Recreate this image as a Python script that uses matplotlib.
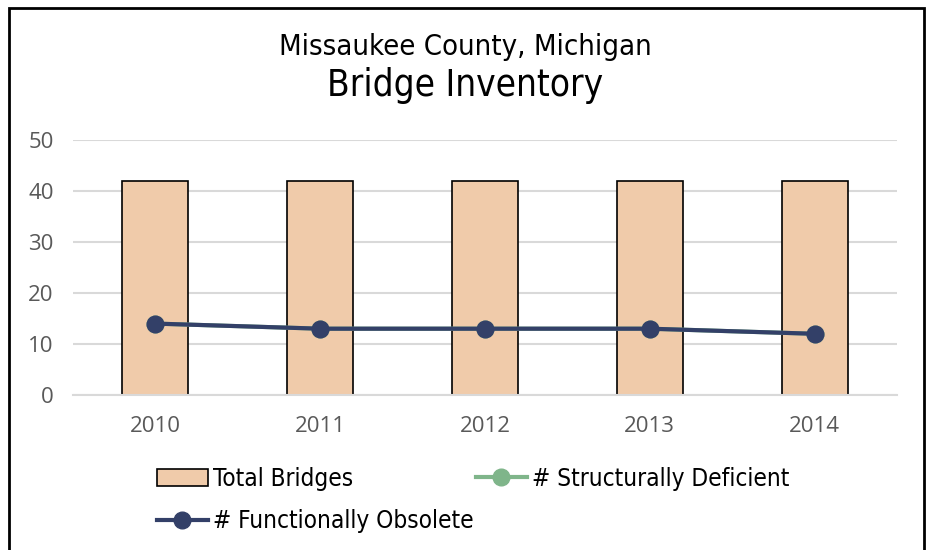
import matplotlib.pyplot as plt
from matplotlib.patches import Rectangle

years = ["2010", "2011", "2012", "2013", "2014"]
total_bridges = [42, 42, 42, 42, 42]
structurally_deficient = [14, 13, 13, 13, 12]
functionally_obsolete = [14, 13, 13, 13, 12]

bar_color = "#F0CBAA"
sd_color = "#7FB58A"
fo_color = "#334068"
grid_color = "#D9D9D9"
tick_color = "#595959"

fig = plt.figure(figsize=(9.3, 5.5), dpi=100)
ax = fig.add_axes([73 / 930, 1 - 395 / 550, 824 / 930, 255 / 550])

x = range(len(years))
bars = ax.bar(x, total_bridges, width=0.4, color=bar_color,
              edgecolor="black", linewidth=1.2, zorder=2, label="Total Bridges")
sd_line, = ax.plot(x, structurally_deficient, color=sd_color, lw=3, marker="o",
                   ms=12, zorder=3, label="# Structurally Deficient")
fo_line, = ax.plot(x, functionally_obsolete, color=fo_color, lw=3, marker="o",
                   ms=12, zorder=4, label="# Functionally Obsolete")

ax.set_xlim(-0.5, len(years) - 0.5)
ax.set_ylim(0, 50)
ax.set_yticks(range(0, 51, 10))
ax.set_xticks(list(x))
ax.set_xticklabels(years)
ax.yaxis.grid(True, color=grid_color, lw=1.5, zorder=0)
ax.set_axisbelow(True)
for side in ["top", "right", "left"]:
    ax.spines[side].set_visible(False)
ax.spines["bottom"].set_color(grid_color)
ax.spines["bottom"].set_linewidth(1.5)
ax.tick_params(axis="both", length=0, colors=tick_color, labelsize=16)
ax.tick_params(axis="y", pad=14)
ax.tick_params(axis="x", pad=15)
for lab in ax.get_xticklabels() + ax.get_yticklabels():
    lab.set_family(["Open Sans", "DejaVu Sans"])

fig.text(0.5, 1 - 47 / 550, "Missaukee County, Michigan", ha="center", va="center",
         fontsize=21, family="DejaVu Sans", fontstretch="condensed")
fig.text(0.5, 1 - 86 / 550, "Bridge Inventory", ha="center", va="center",
         fontsize=26.5, family="DejaVu Sans", fontstretch="condensed")

leg = fig.legend([bars, fo_line, sd_line],
                 ["Total Bridges", "# Functionally Obsolete", "# Structurally Deficient"],
                 ncol=2, loc="upper left", bbox_to_anchor=(135 / 930, 1 - 445 / 550),
                 frameon=False,
                 prop={"family": "DejaVu Sans", "stretch": "condensed", "size": 17.5},
                 handlelength=2.1, handletextpad=0.2, columnspacing=0.1,
                 labelspacing=0.75)

# outer chart frame
fig.patches.append(Rectangle((9 / 930, -0.05), (924 - 9) / 930, 1.05 - 8 / 550,
                             transform=fig.transFigure, fill=False,
                             edgecolor="black", lw=2))

fig.savefig("out.png", dpi=100)
